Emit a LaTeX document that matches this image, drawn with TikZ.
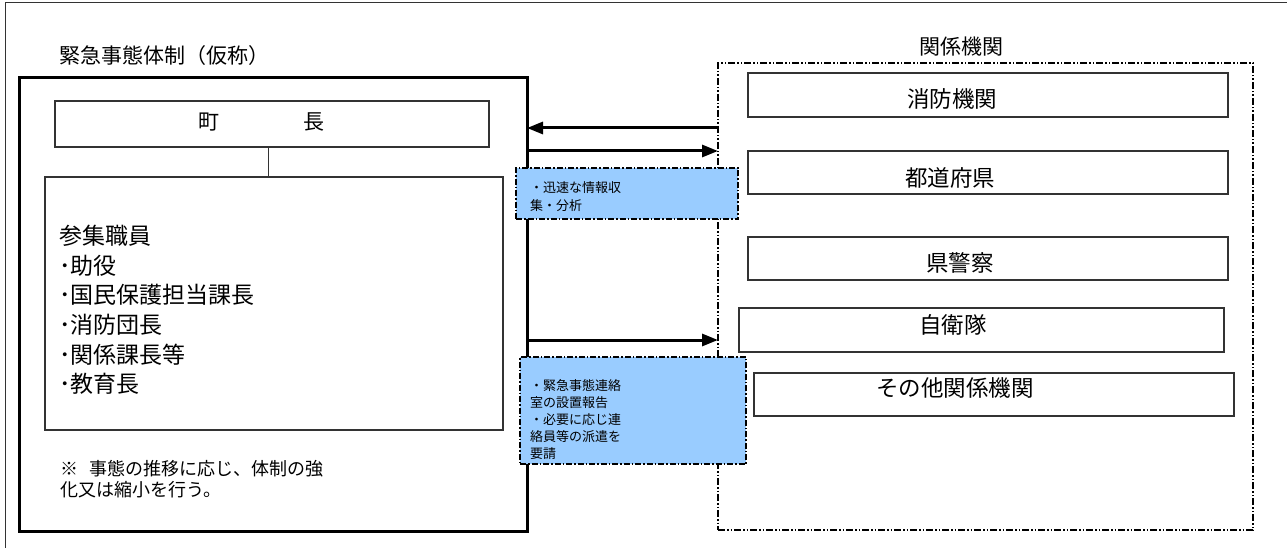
\documentclass[tikz,border=0pt]{standalone}
\usepackage{fontspec}
\setmainfont{Noto Sans CJK JP}
\usetikzlibrary{arrows.meta}
\definecolor{boxline}{HTML}{333333}
\definecolor{bluefill}{HTML}{99CCFF}
\begin{document}
\begin{tikzpicture}[x=1pt,y=-1pt,
  box/.style={draw=boxline, line width=1.3pt, inner sep=0pt, outer sep=0pt, anchor=north west},
  thickbox/.style={draw=black, line width=3pt, inner sep=0pt, outer sep=0pt, anchor=north west},
  groupbox/.style={draw=black, line width=1.6pt, inner sep=0pt, outer sep=0pt, anchor=north west,
    dash pattern=on 7pt off 2pt on 1.5pt off 2pt on 1.5pt off 2pt},
  notebox/.style={draw=black, fill=bluefill, line width=1.6pt, inner sep=0pt, outer sep=0pt, anchor=north west,
    dash pattern=on 6pt off 2pt on 1.5pt off 2pt},
  arr/.style={line width=3pt, -{Triangle[length=16pt,width=12pt]}},
  big/.style={inner sep=0pt, font=\fontsize{21pt}{25pt}\selectfont},
  org/.style={inner sep=0pt, font=\fontsize{22.5pt}{27pt}\selectfont},
  small/.style={inner sep=0pt, anchor=west, align=left},
]
\useasboundingbox (0,0) rectangle (1287,548);
% outer frame
\draw[line width=1pt, draw=boxline] (5,548) -- (5,3) -- (1287,3);

% left group
\node[big, anchor=west] (title1) at (59,56) {緊急事態体制（仮称）};
\node[thickbox, minimum width=508pt, minimum height=453pt] (emerg) at (19,78) {};
\node[box, minimum width=434pt, minimum height=46pt] (chou) at (55,101) {};
\node[big] (choutext) at (261,122) {町\hspace{84pt}長};
\node[box, minimum width=458pt, minimum height=253pt] (members) at (45,177) {};
\draw[line width=1pt, draw=boxline] ([xshift=-4pt]chou.south) -- ([xshift=-4pt]chou.south |- members.north);
\node[small, font=\fontsize{23pt}{29.6pt}\selectfont] (memtext) at (59,310)
  {参集職員\\･助役\\･国民保護担当課長\\･消防団長\\･関係課長等\\･教育長};
\node[small, font=\fontsize{18pt}{21pt}\selectfont] (note) at (60,479)
  {※\hspace{0.6em}事態の推移に応じ、体制の強\\化又は縮小を行う。};

% right group
\node[big] (title2) at (961,47) {関係機関};
\node[groupbox, minimum width=535pt, minimum height=467pt] (kankei) at (718,63) {};
\node[box, minimum width=480pt, minimum height=44pt] (shobo) at (748,73) {};
\node[org] (shobot) at (952,99) {消防機関};
\node[box, minimum width=480pt, minimum height=43pt] (todo) at (748,151) {};
\node[org] (todot) at (950,178) {都道府県};
\node[box, minimum width=480pt, minimum height=43pt] (kenkei) at (748,237) {};
\node[org] (kenkeit) at (960,263) {県警察};
\node[box, minimum width=485pt, minimum height=44pt] (jiei) at (739,308) {};
\node[org] (jieit) at (953,325) {自衛隊};
\node[box, minimum width=480pt, minimum height=43pt] (sonota) at (754,373) {};
\node[org] (sonotat) at (955,388) {その他関係機関};

% arrows
\draw[arr] (kankei.west |- 0,128) -- (emerg.east |- 0,128);
\draw[arr] (emerg.east |- 0,151) -- (kankei.west |- 0,151);
\draw[arr] (emerg.east |- 0,340) -- (kankei.west |- 0,340);

% information boxes
\node[notebox, minimum width=222pt, minimum height=51pt] (info1) at (516,168) {};
\node[small, font=\fontsize{13pt}{18pt}\selectfont] (info1t) at (530,197) {・迅速な情報収\\集・分析};
\node[notebox, minimum width=226pt, minimum height=107pt] (info2) at (520,357) {};
\node[small, font=\fontsize{13pt}{17pt}\selectfont] (info2t) at (530,420)
  {・緊急事態連絡\\室の設置報告\\・必要に応じ連\\絡員等の派遣を\\要請};
\end{tikzpicture}
\end{document}
